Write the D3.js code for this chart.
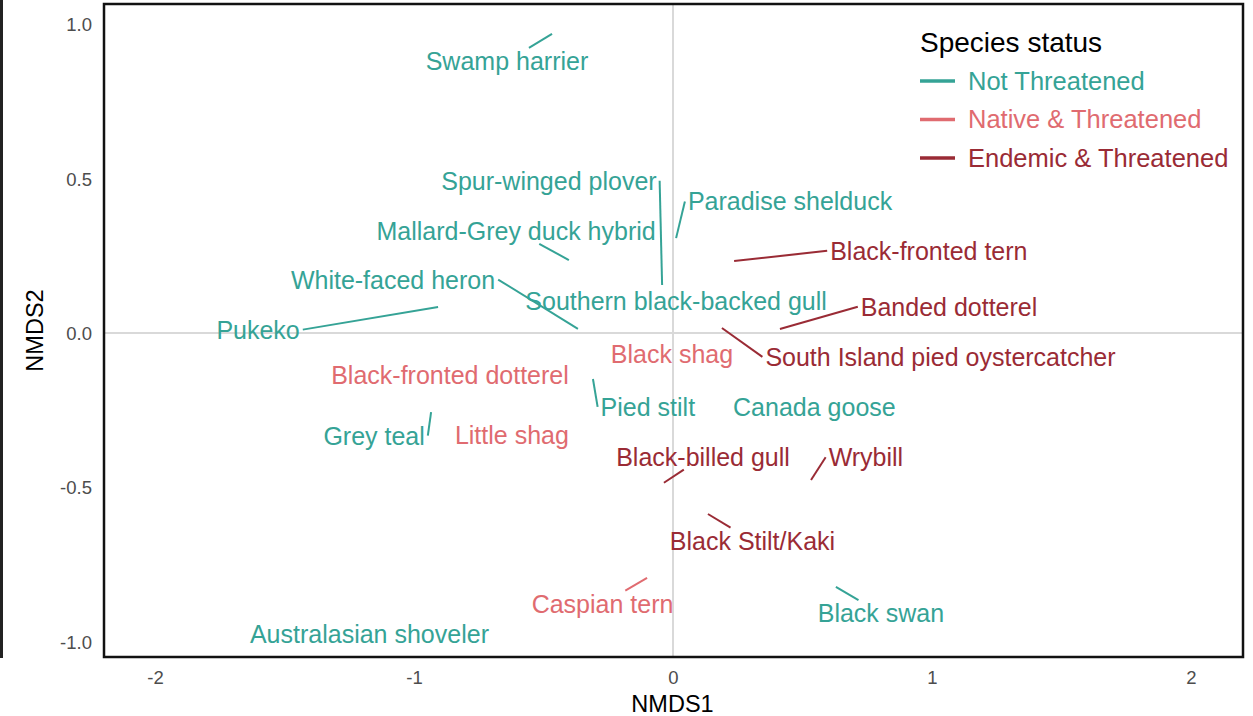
<!DOCTYPE html>
<html>
<head>
<meta charset="utf-8">
<script src="https://cdn.jsdelivr.net/npm/d3@7"></script>
<style>
  body { margin: 0; background: #fff; }
  svg { display: block; font-family: "Liberation Sans", Arial, sans-serif; }
</style>
</head>
<body>
<div id="chart"></div>
<script>
// NMDS ordination of species, labels placed as by ggrepel
const species = [
  "Swamp harrier", "Spur-winged plover", "Paradise shelduck", "Mallard-Grey duck hybrid",
  "Black-fronted tern", "White-faced heron", "Pukeko", "Southern black-backed gull",
  "Banded dotterel", "South Island pied oystercatcher", "Black shag", "Black-fronted dotterel",
  "Pied stilt", "Canada goose", "Grey teal", "Little shag", "Black-billed gull", "Wrybill",
  "Black Stilt/Kaki", "Caspian tern", "Black swan", "Australasian shoveler"
];
const status = [
  "NT", "NT", "NT", "NT",
  "ET", "NT", "NT", "NT",
  "ET", "ET", "NAT", "NAT",
  "NT", "NT", "NT", "NAT", "ET", "ET",
  "ET", "NAT", "NT", "NT"
];
const nmds1 = [-0.467, -0.042, 0.012, -0.402, 0.236, -0.367, -0.907, 0.012, 0.413, 0.189, -0.004, -0.861,
  -0.309, 0.544, -0.934, -0.622, -0.035, 0.533, 0.135, -0.100, 0.629, -1.174];
const nmds2 = [0.968, 0.155, 0.307, 0.236, 0.233, 0.013, 0.084, 0.104, 0.013, 0.016, -0.068, -0.136,
  -0.149, -0.240, -0.256, -0.330, -0.485, -0.476, -0.586, -0.793, -0.822, -0.974];
// repelled label positions (data units)
const labelX = [-0.641, -0.479, 0.452, -0.606, 0.988, -1.081, -1.602, 0.012, 1.066, 1.033, -0.004, -0.861,
  -0.097, 0.546, -1.154, -0.622, 0.116, 0.745, 0.307, -0.272, 0.803, -1.172];
const labelY = [0.880, 0.492, 0.425, 0.330, 0.265, 0.172, 0.010, 0.104, 0.084, -0.078, -0.068, -0.136,
  -0.240, -0.240, -0.333, -0.330, -0.401, -0.403, -0.673, -0.877, -0.908, -0.974];

const xTicks = [-2, -1, 0, 1, 2];
const yTicks = [-1.0, -0.5, 0.0, 0.5, 1.0];

const statusKeys = ["NT", "NAT", "ET"];
const statusNames = ["Not Threatened", "Native & Threatened", "Endemic & Threatened"];
const statusColors = ["#35A396", "#E06B70", "#9A2B35"];

const W = 1253, H = 716;
const panel = { left: 104, right: 1243, top: 4, bottom: 657 };

const svg = d3.select("#chart").append("svg")
  .attr("width", W)
  .attr("height", H);

const x = d3.scaleLinear().domain([-2.197, 2.201]).range([panel.left, panel.right]);
const y = d3.scaleLinear().domain([-1.049, 1.065]).range([panel.bottom, panel.top]);
const color = d3.scaleOrdinal().domain(statusKeys).range(statusColors);

// plain hyphen minus, as in the original
const fmtX = d => d3.format("d")(d).replace("\u2212", "-");
const fmtY = d => d3.format(".1f")(d).replace("\u2212", "-");

// stray frame edge on the far left
svg.append("rect")
  .attr("x", 0).attr("y", 0)
  .attr("width", 3).attr("height", 658)
  .attr("fill", "#222");

// zero reference lines
svg.append("line")
  .attr("x1", panel.left).attr("x2", panel.right)
  .attr("y1", y(0)).attr("y2", y(0))
  .attr("stroke", "#d9d9d9").attr("stroke-width", 2);
svg.append("line")
  .attr("x1", x(0)).attr("x2", x(0))
  .attr("y1", panel.top).attr("y2", panel.bottom)
  .attr("stroke", "#d9d9d9").attr("stroke-width", 2);

// axes (labels only, no tick marks)
const xAxis = svg.append("g")
  .attr("transform", `translate(0,${panel.bottom})`)
  .call(d3.axisBottom(x).tickValues(xTicks).tickSize(0).tickPadding(27).tickFormat(fmtX));
const yAxis = svg.append("g")
  .attr("transform", `translate(${panel.left},0)`)
  .call(d3.axisLeft(y).tickValues(yTicks).tickSize(0).tickPadding(12).tickFormat(fmtY));
[xAxis, yAxis].forEach(a => {
  a.select(".domain").remove();
  a.selectAll("text")
    .attr("fill", "#4d4d4d")
    .style("font-size", "18.5px")
    .style("font-family", "Liberation Sans, Arial, sans-serif");
});
yAxis.selectAll("text").attr("dy", "0.35em");
xAxis.selectAll("text").attr("dy", "0");

svg.append("text")
  .attr("x", (panel.left + panel.right) / 2 - 1)
  .attr("y", 712)
  .attr("text-anchor", "middle")
  .style("font-size", "23.5px")
  .text("NMDS1");
svg.append("text")
  .attr("transform", `translate(43,${(panel.top + panel.bottom) / 2}) rotate(-90)`)
  .attr("text-anchor", "middle")
  .style("font-size", "23.5px")
  .text("NMDS2");

// labels
const data = species.map((s, i) => ({
  name: s, status: status[i],
  px: x(nmds1[i]), py: y(nmds2[i]),
  lx: x(labelX[i]), ly: y(labelY[i])
}));

const segLayer = svg.append("g");
const labels = svg.append("g").selectAll("text")
  .data(data)
  .enter()
  .append("text")
  .attr("x", d => d.lx)
  .attr("y", d => d.ly)
  .attr("dy", "0.35em")
  .attr("text-anchor", "middle")
  .attr("fill", d => color(d.status))
  .style("font-size", "25px")
  .text(d => d.name);

// ggrepel-like segment from point to label box
labels.each(function (d) {
  const b = this.getBBox();
  const pad = 3;
  const x1 = b.x - pad, x2 = b.x + b.width + pad;
  const y1 = b.y + 1, y2 = b.y + b.height - 1;
  const midy = (y1 + y2) / 2;
  let ex, ey;
  if (d.px < x1 || d.px > x2) {
    ex = d.px < x1 ? x1 : x2;
    ey = midy;
  } else if (d.py < y1 || d.py > y2) {
    ey = d.py < y1 ? y1 : y2;
    const t = (ey - d.py) / (d.ly - d.py);
    ex = d.px + t * (d.lx - d.px);
  } else {
    return;
  }
  if (Math.hypot(ex - d.px, ey - d.py) < 6) return;
  segLayer.append("line")
    .attr("x1", d.px).attr("y1", d.py)
    .attr("x2", ex).attr("y2", ey)
    .attr("stroke", color(d.status))
    .attr("stroke-width", 2);
});

// panel border
svg.append("rect")
  .attr("x", panel.left).attr("y", panel.top)
  .attr("width", panel.right - panel.left)
  .attr("height", panel.bottom - panel.top)
  .attr("fill", "none")
  .attr("stroke", "#111")
  .attr("stroke-width", 2.5);

// legend
const legend = svg.append("g").attr("transform", "translate(920,0)");
legend.append("text")
  .attr("x", 0).attr("y", 52)
  .attr("fill", "#000")
  .style("font-size", "28px")
  .text("Species status");
const item = legend.selectAll("g.item")
  .data(statusKeys)
  .enter()
  .append("g")
  .attr("class", "item")
  .attr("transform", (d, i) => `translate(0,${81 + i * 38.5})`);
item.append("line")
  .attr("x1", 0).attr("x2", 35)
  .attr("y1", 0).attr("y2", 0)
  .attr("stroke", d => color(d))
  .attr("stroke-width", 3.5);
item.append("text")
  .attr("x", 48).attr("y", 0)
  .attr("dy", "0.35em")
  .attr("fill", d => color(d))
  .style("font-size", "25.5px")
  .text((d, i) => statusNames[i]);
</script>
</body>
</html>
